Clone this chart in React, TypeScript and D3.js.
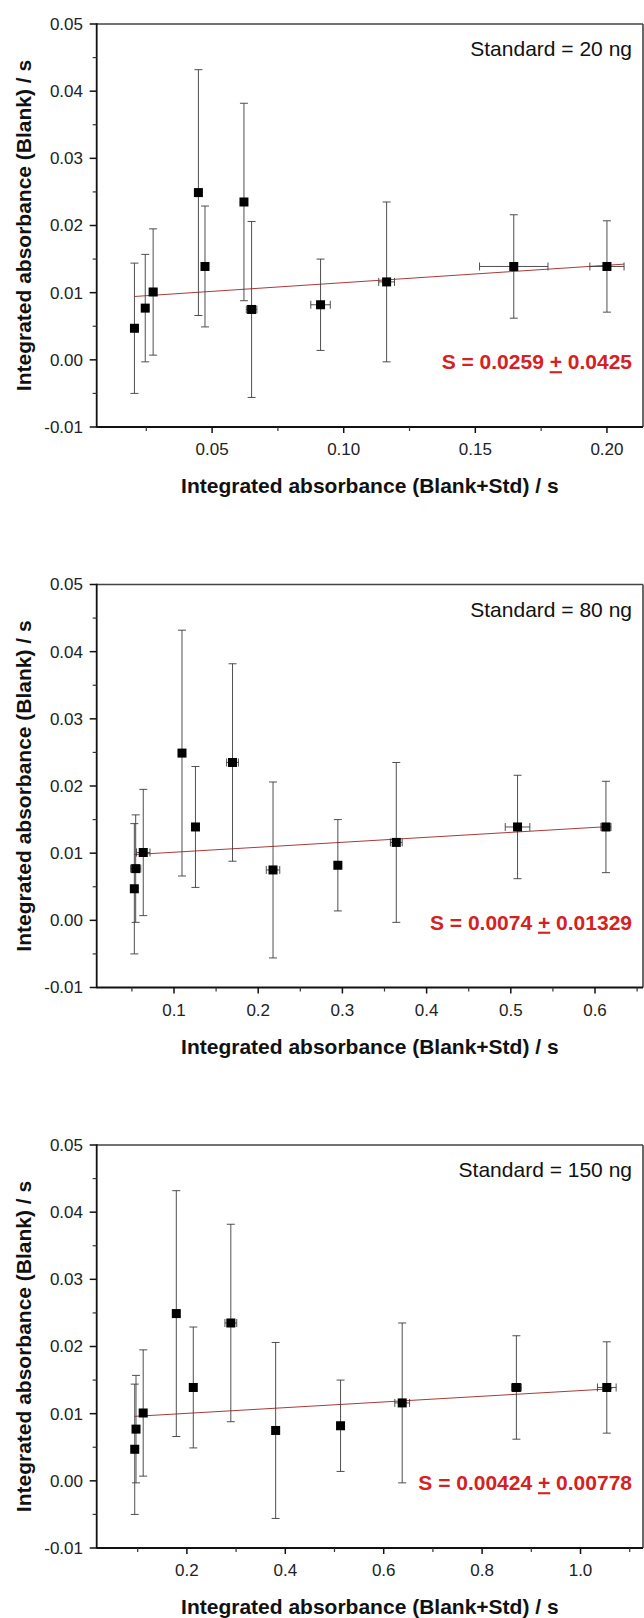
import React from "react";
import * as d3 from "d3";

// Blank signal (y) with its standard deviation — identical in every panel
const blankSignal = [0.0047, 0.0077, 0.0101, 0.0249, 0.0139, 0.0235, 0.0075, 0.0082, 0.0116, 0.0139, 0.0139];
const blankError = [0.0097, 0.008, 0.0094, 0.0183, 0.009, 0.0147, 0.0131, 0.0068, 0.0119, 0.0077, 0.0068];

// Blank + standard signal (x) and its standard deviation, one pair per standard mass
const std20X = [0.0205, 0.0246, 0.0276, 0.0448, 0.0473, 0.0621, 0.065, 0.0912, 0.1163, 0.1646, 0.2];
const std20XErr = [0.0008, 0.0008, 0.0014, 0.0008, 0.0008, 0.0008, 0.002, 0.0037, 0.003, 0.013, 0.0065];
const std80X = [0.0529, 0.0545, 0.0635, 0.1095, 0.1255, 0.1695, 0.2176, 0.2946, 0.364, 0.508, 0.613];
const std80XErr = [0.003, 0.006, 0.008, 0.003, 0.003, 0.007, 0.008, 0.003, 0.007, 0.0146, 0.006];
const std150X = [0.094, 0.0966, 0.1112, 0.1785, 0.213, 0.2893, 0.3804, 0.5123, 0.6376, 0.8697, 1.0534];
const std150XErr = [0.003, 0.004, 0.004, 0.003, 0.004, 0.012, 0.006, 0.004, 0.015, 0.01, 0.019];

// Linear fit results
const standardLabels = ["Standard = 20 ng", "Standard = 80 ng", "Standard = 150 ng"];
const slopeText = ["0.0259", "0.0074", "0.00424"];
const slopeErrText = ["0.0425", "0.01329", "0.00778"];
const slopes = [0.0259, 0.0074, 0.00424];
const intercepts = [0.0089, 0.0094, 0.0092];
const fitRanges = [
  [0.0205, 0.2065],
  [0.0529, 0.6137],
  [0.094, 1.0645],
];

// Axes
const xDomains = [
  [0.00616, 0.2137],
  [0.0082, 0.657],
  [0.0167, 1.127],
];
const xTicks20 = [0.05, 0.1, 0.15, 0.2];
const xTickLabels20 = ["0.05", "0.10", "0.15", "0.20"];
const xMinor20 = [0.025, 0.075, 0.125, 0.175];
const xTicks80 = [0.1, 0.2, 0.3, 0.4, 0.5, 0.6];
const xTickLabels80 = ["0.1", "0.2", "0.3", "0.4", "0.5", "0.6"];
const xMinor80 = [0.05, 0.15, 0.25, 0.35, 0.45, 0.55, 0.65];
const xTicks150 = [0.2, 0.4, 0.6, 0.8, 1.0];
const xTickLabels150 = ["0.2", "0.4", "0.6", "0.8", "1.0"];
const xMinor150 = [0.1, 0.3, 0.5, 0.7, 0.9, 1.1];
const yTicks = [-0.01, 0, 0.01, 0.02, 0.03, 0.04, 0.05];
const yTickLabels = ["-0.01", "0.00", "0.01", "0.02", "0.03", "0.04", "0.05"];
const yMinor = [-0.005, 0.005, 0.015, 0.025, 0.035, 0.045];

const xTitle = "Integrated absorbance (Blank+Std) / s";
const yTitle = "Integrated absorbance (Blank) / s";

const W = 644;
const H = 1618;
const LEFT = 96.7;
const RIGHT = 643;
const TOPS = [24, 584.5, 1145];
const PH = 403;
const FONT = "'Liberation Sans', Arial, Helvetica, sans-serif";
const RED = "#d42222";

const panels = [
  { xs: std20X, xe: std20XErr, ticks: xTicks20, labels: xTickLabels20, minor: xMinor20 },
  { xs: std80X, xe: std80XErr, ticks: xTicks80, labels: xTickLabels80, minor: xMinor80 },
  { xs: std150X, xe: std150XErr, ticks: xTicks150, labels: xTickLabels150, minor: xMinor150 },
];

function Panel({ i }: { i: number }) {
  const p = panels[i];
  const top = TOPS[i];
  const bottom = top + PH;
  const x = d3.scaleLinear().domain(xDomains[i]).range([LEFT, RIGHT]);
  const y = d3.scaleLinear().domain([-0.01, 0.05]).range([bottom, top]);
  const fitLine = d3
    .line<number>()
    .x((d) => x(d))
    .y((d) => y(intercepts[i] + slopes[i] * d));
  const cap = 4;
  const sq = 9;
  const errColor = "#3c3c3c";

  return (
    <g>
      {/* frame */}
      <line x1={LEFT} x2={RIGHT} y1={top} y2={top} stroke="#444" strokeWidth={1.6} />
      <line x1={RIGHT} x2={RIGHT} y1={top} y2={bottom} stroke="#444" strokeWidth={1.6} />
      {/* y axis */}
      <line x1={LEFT} x2={LEFT} y1={top - 0.8} y2={bottom + 0.8} stroke="#111" strokeWidth={1.8} />
      {yTicks.map((t, k) => (
        <g key={"yt" + k}>
          <line x1={LEFT - 7} x2={LEFT} y1={y(t)} y2={y(t)} stroke="#111" strokeWidth={1.5} />
          <text
            x={83}
            y={y(t)}
            dy="0.35em"
            textAnchor="end"
            fontFamily={FONT}
            fontSize={17}
            fill="#222"
          >
            {yTickLabels[k]}
          </text>
        </g>
      ))}
      {yMinor.map((t, k) => (
        <line key={"ym" + k} x1={LEFT - 4} x2={LEFT} y1={y(t)} y2={y(t)} stroke="#333" strokeWidth={1.2} />
      ))}
      {/* x axis */}
      <line x1={LEFT} x2={RIGHT} y1={bottom} y2={bottom} stroke="#111" strokeWidth={1.8} />
      {p.ticks.map((t, k) => (
        <g key={"xt" + k}>
          <line x1={x(t)} x2={x(t)} y1={bottom} y2={bottom + 6} stroke="#111" strokeWidth={1.5} />
          <text
            x={x(t)}
            y={bottom + 28}
            textAnchor="middle"
            fontFamily={FONT}
            fontSize={17}
            fill="#222"
          >
            {p.labels[k]}
          </text>
        </g>
      ))}
      {p.minor.map((t, k) => (
        <line key={"xm" + k} x1={x(t)} x2={x(t)} y1={bottom} y2={bottom + 4} stroke="#333" strokeWidth={1.2} />
      ))}
      {/* axis titles */}
      <text
        x={(LEFT + RIGHT) / 2}
        y={bottom + 66}
        textAnchor="middle"
        fontFamily={FONT}
        fontSize={21}
        fontWeight="bold"
        fill="#111"
      >
        {xTitle}
      </text>
      <text
        transform={`translate(30.5,${(top + bottom) / 2}) rotate(-90)`}
        textAnchor="middle"
        fontFamily={FONT}
        fontSize={21}
        fontWeight="bold"
        fill="#111"
      >
        {yTitle}
      </text>
      {/* fit line */}
      <path d={fitLine(fitRanges[i]) || ""} fill="none" stroke="#a83a3a" strokeWidth={1} />
      {/* error bars */}
      {p.xs.map((xv, k) => {
        const yv = blankSignal[k];
        const ye = blankError[k];
        const xe = p.xe[k];
        const cx = x(xv);
        const y1 = y(yv + ye);
        const y0 = y(yv - ye);
        const xl = x(xv - xe);
        const xr = x(xv + xe);
        const cy = y(yv);
        return (
          <g key={"e" + k} stroke={errColor} strokeWidth={0.9} fill="none">
            <line x1={cx} x2={cx} y1={y1} y2={y0} />
            <line x1={cx - cap} x2={cx + cap} y1={y1} y2={y1} />
            <line x1={cx - cap} x2={cx + cap} y1={y0} y2={y0} />
            <line x1={xl} x2={xr} y1={cy} y2={cy} />
            <line x1={xl} x2={xl} y1={cy - cap} y2={cy + cap} />
            <line x1={xr} x2={xr} y1={cy - cap} y2={cy + cap} />
          </g>
        );
      })}
      {/* markers */}
      {p.xs.map((xv, k) => (
        <rect
          key={"m" + k}
          x={x(xv) - sq / 2}
          y={y(blankSignal[k]) - sq / 2}
          width={sq}
          height={sq}
          fill="#000"
        />
      ))}
      {/* annotations */}
      <text
        x={632}
        y={top + 25}
        dy="0.35em"
        textAnchor="end"
        fontFamily={FONT}
        fontSize={21}
        fill="#111"
      >
        {standardLabels[i]}
      </text>
      <text
        x={632}
        y={y(-0.0003)}
        dy="0.35em"
        textAnchor="end"
        fontFamily={FONT}
        fontSize={21}
        fontWeight="bold"
        fill={RED}
      >
        {"S = " + slopeText[i] + " "}
        <tspan style={{ textDecoration: "underline" }}>+</tspan>
        {" " + slopeErrText[i]}
      </text>
    </g>
  );
}

export default function App() {
  return (
    <svg
      width={W}
      height={H}
      viewBox={`0 0 ${W} ${H}`}
      style={{ position: "absolute", left: 0, top: 0, background: "#fff" }}
    >
      <rect x={0} y={0} width={W} height={H} fill="#fff" />
      {[0, 1, 2].map((i) => (
        <Panel key={i} i={i} />
      ))}
    </svg>
  );
}
